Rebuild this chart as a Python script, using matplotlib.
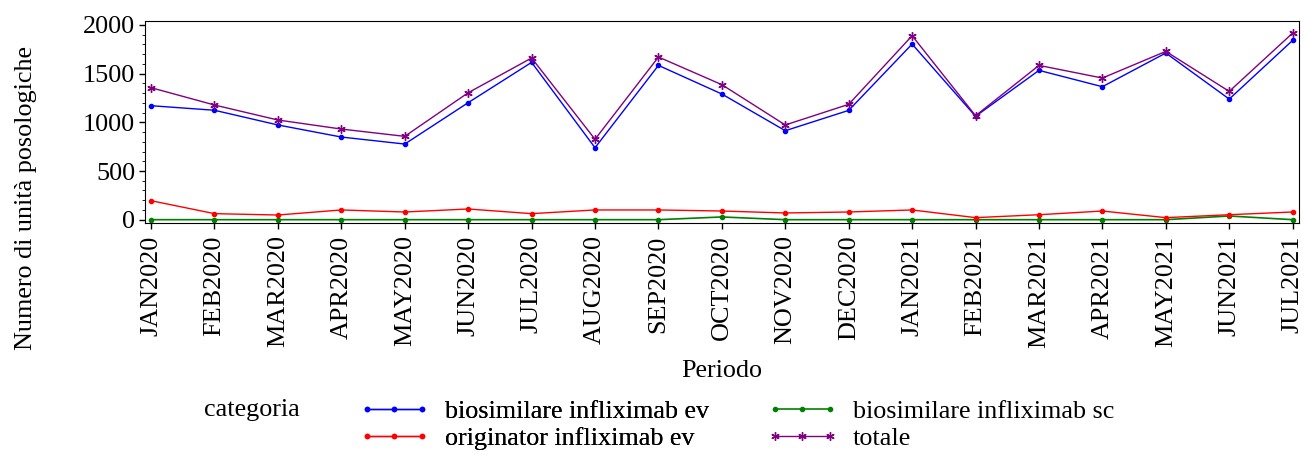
import matplotlib
matplotlib.use("Agg")
import matplotlib.pyplot as plt
from matplotlib.ticker import MultipleLocator

plt.rcParams["font.family"] = ["Liberation Serif", "DejaVu Serif"]

periods = ["JAN2020", "FEB2020", "MAR2020", "APR2020", "MAY2020", "JUN2020",
           "JUL2020", "AUG2020", "SEP2020", "OCT2020", "NOV2020", "DEC2020",
           "JAN2021", "FEB2021", "MAR2021", "APR2021", "MAY2021", "JUN2021",
           "JUL2021"]
bio_ev = [1171, 1124, 973, 849, 777, 1202, 1616, 739, 1585, 1291, 914, 1123,
          1804, 1062, 1534, 1366, 1712, 1239, 1842]
bio_sc = [0, 0, 0, 0, 0, 0, 0, 0, 0, 28, 0, 0, 0, 0, 0, 0, 0, 38, 0]
orig_ev = [195, 62, 48, 100, 79, 110, 62, 100, 100, 89, 69, 79, 100, 21, 51,
           89, 21, 51, 79]
totale = [1356, 1178, 1024, 931, 856, 1304, 1661, 826, 1671, 1387, 973, 1185,
          1890, 1068, 1585, 1455, 1729, 1318, 1917]

fs = 18.8
W, H = 1305, 455
fig = plt.figure(figsize=(W / 100, H / 100), dpi=100)
ax = fig.add_axes([0.1109, 0.5099, 0.8845, 0.4433])

x = range(len(periods))
star = (6, 2, 0)
l1, = ax.plot(x, bio_ev, color="#0000ff", lw=1, marker="o", ms=3)
l2, = ax.plot(x, bio_sc, color="#008000", lw=1.2, marker="o", ms=3)
l3, = ax.plot(x, orig_ev, color="#ff0000", lw=1, marker="o", ms=3)
l4, = ax.plot(x, totale, color="#800080", lw=1, marker=star, ms=6)

ax.set_xlim(-0.1, len(periods) - 0.9)
ax.set_ylim(-34, 2038)
ax.set_xticks(list(x))
ax.set_xticklabels(periods, rotation=90, fontsize=fs)
ax.yaxis.set_major_locator(MultipleLocator(500))
ax.yaxis.set_minor_locator(MultipleLocator(100))
ax.tick_params(axis="y", labelsize=fs, length=4, width=1, pad=3)
ax.tick_params(axis="y", which="minor", length=2.5)
ax.tick_params(axis="x", length=4, width=1, pad=5)

fig.text(722 / W, 1 - 371 / H, "Periodo", fontsize=fs, ha="center", va="center")
fig.text(26 / W, 1 - 198 / H, "Numero di unità posologiche", fontsize=fs,
         rotation=90, ha="center", va="center")
fig.text(204 / W, 1 - 410 / H, "categoria", fontsize=fs, va="center")

common = dict(loc="center left", frameon=False, fontsize=fs, numpoints=3,
              handlelength=2.7, handletextpad=0.6, labelspacing=0.15,
              borderpad=0, borderaxespad=0)
leg1 = fig.legend([l1, l3], ["biosimilare infliximab ev", "originator infliximab ev"],
                  bbox_to_anchor=(359 / W, 1 - 425 / H), **common)
fig.add_artist(leg1)
fig.legend([l2, l4], ["biosimilare infliximab sc", "totale"],
           bbox_to_anchor=(767 / W, 1 - 425 / H), **common)

fig.savefig("out.png", dpi=100)
